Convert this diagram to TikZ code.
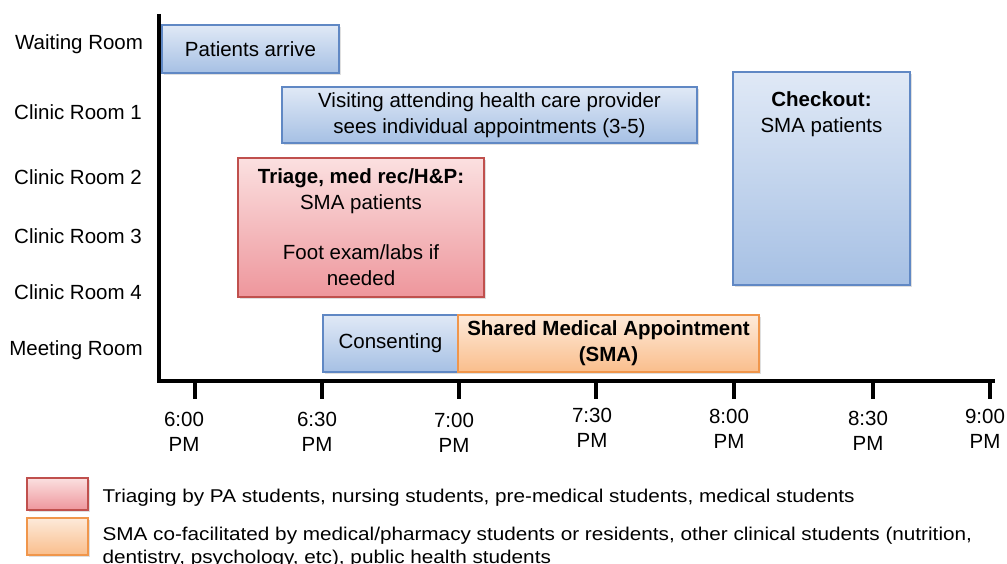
\documentclass[tikz,border=0pt]{standalone}
\usepackage{fontspec}
\setmainfont{Liberation Sans}
\newfontfamily\widesans[FakeStretch=1.12]{Liberation Sans}
\usetikzlibrary{shadows}

\definecolor{bluetop}{RGB}{224,233,246}
\definecolor{bluebot}{RGB}{166,192,228}
\definecolor{blueline}{RGB}{96,136,196}
\definecolor{redtop}{RGB}{251,224,224}
\definecolor{redbot}{RGB}{238,150,156}
\definecolor{redline}{RGB}{192,80,77}
\definecolor{orgtop}{RGB}{253,234,218}
\definecolor{orgbot}{RGB}{250,190,140}
\definecolor{orgline}{RGB}{240,150,75}

\begin{document}
\begin{tikzpicture}[x=1pt, y=-1pt,
  every node/.style = {font=\fontsize{20.5}{26}\selectfont},
  slot/.style = {rectangle, draw, line width=1.1pt, inner sep=0pt, align=center,
    drop shadow={shadow xshift=2pt, shadow yshift=-2pt, opacity=0.25}},
  blueslot/.style = {slot, draw=blueline, top color=bluetop, bottom color=bluebot},
  redslot/.style = {slot, draw=redline, top color=redtop, bottom color=redbot},
  orgslot/.style = {slot, draw=orgline, top color=orgtop, bottom color=orgbot},
  room/.style = {anchor=center},
  hour/.style = {align=center, font=\fontsize{20.5}{25}\selectfont},
  axis/.style = {line width=3.5pt},
  legend/.style = {anchor=west, align=left, font=\widesans\fontsize{18.5}{22.5}\selectfont}]
\useasboundingbox (0,0) rectangle (1007,564);

% rooms down the left side
\node[room] (wait) at (79,44)  {Waiting Room};
\node[room] (cr1)  at (78,112) {Clinic Room 1};
\node[room] (cr2)  at (78,177) {Clinic Room 2};
\node[room] (cr3)  at (78,236) {Clinic Room 3};
\node[room] (cr4)  at (78,292) {Clinic Room 4};
\node[room] (meet) at (76,350) {Meeting Room};

% axes
\coordinate (top) at (159,14);
\coordinate (orig) at (159,381);
\coordinate (right) at (993,381);
\draw[axis] (top) -- (orig);
\draw[axis, line cap=rect] (orig) -- (right);

% ticks and times
\coordinate (t0) at (195,381); \coordinate (t0b) at (195,399);
\coordinate (t1) at (322,381); \coordinate (t1b) at (322,399);
\coordinate (t2) at (459,381); \coordinate (t2b) at (459,399);
\coordinate (t3) at (596,381); \coordinate (t3b) at (596,399);
\coordinate (t4) at (734,381); \coordinate (t4b) at (734,399);
\coordinate (t5) at (873,381); \coordinate (t5b) at (873,399);
\coordinate (t6) at (990,381); \coordinate (t6b) at (990,399);
\draw[axis] (t0) -- (t0b);
\draw[axis] (t1) -- (t1b);
\draw[axis] (t2) -- (t2b);
\draw[axis] (t3) -- (t3b);
\draw[axis] (t4) -- (t4b);
\draw[axis] (t5) -- (t5b);
\draw[axis] (t6) -- (t6b);
\node[hour] (h0) at (184,432) {6:00\\PM};
\node[hour] (h1) at (317,432) {6:30\\PM};
\node[hour] (h2) at (454,433) {7:00\\PM};
\node[hour] (h3) at (592,428) {7:30\\PM};
\node[hour] (h4) at (729,429) {8:00\\PM};
\node[hour] (h5) at (868,431) {8:30\\PM};
\node[hour] (h6) at (985,429) {9:00\\PM};

% what happens where
\node[blueslot, minimum width=177pt, minimum height=48pt] (arrive) at (250.5,49)
  {Patients arrive};
\node[blueslot, minimum width=415pt, minimum height=56pt] (visit) at (489.5,115)
  {Visiting attending health care provider\\sees individual appointments (3-5)};
\node[redslot, minimum width=246pt, minimum height=139pt] (triage) at (361,227.5)
  {\textbf{Triage, med rec/H\&P:}\\SMA patients\\[24pt]Foot exam/labs if\\needed};
\node[blueslot, minimum width=177pt, minimum height=213pt,
  label={[align=center, anchor=north, yshift=-17pt]north:{\textbf{Checkout:}\\SMA patients}}]
  (checkout) at (821.5,178.5) {};
\node[blueslot, minimum width=135pt, minimum height=57pt] (consent) at (390.5,343.5)
  {Consenting};
\node[orgslot, minimum width=301pt, minimum height=57pt] (sma) at (608.5,343.5)
  {\textbf{Shared Medical Appointment}\\\textbf{(SMA)}};

% legend
\node[redslot, minimum width=61pt, minimum height=32pt] (keyred) at (57.5,494) {};
\node[orgslot, minimum width=61pt, minimum height=37pt] (keyorg) at (57.5,536.5) {};
\node[legend] (txtred) at (99,498)
  {Triaging by PA students, nursing students, pre-medical students, medical students};
\node[legend, anchor=north west] (txtorg) at (99,524)
  {SMA co-facilitated by medical/pharmacy students or residents, other clinical students (nutrition,\\dentistry, psychology, etc), public health students};
\end{tikzpicture}
\end{document}
